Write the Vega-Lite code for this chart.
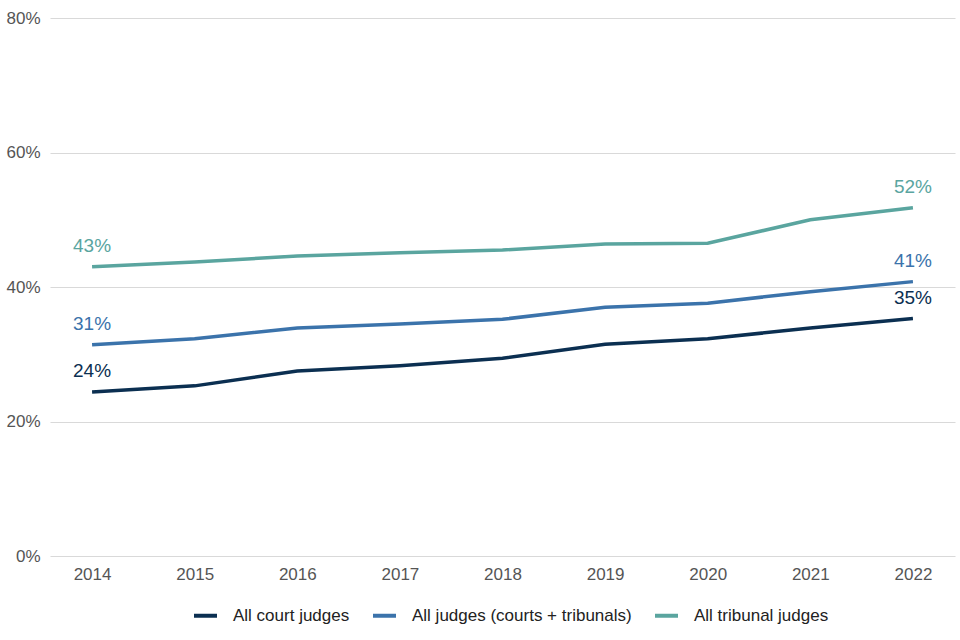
{
  "$schema": "https://vega.github.io/schema/vega-lite/v6.json",
  "width": 905,
  "height": 538,
  "autosize": {"type": "none"},
  "padding": {"left": 50, "top": 18, "right": 5, "bottom": 84},
  "background": "white",
  "config": {
    "view": {"stroke": null},
    "font": "Liberation Sans",
    "axis": {"labelFont": "Liberation Sans", "labelFontSize": 17, "labelColor": "#555555", "title": null, "ticks": false, "domain": false},
    "legend": {"labelFont": "Liberation Sans", "labelFontSize": 17, "labelColor": "#222222", "labelLimit": 0}
  },
  "data": {
    "values": [
      {"year": "2014", "series": "All court judges", "value": 0.244},
      {"year": "2015", "series": "All court judges", "value": 0.253},
      {"year": "2016", "series": "All court judges", "value": 0.275},
      {"year": "2017", "series": "All court judges", "value": 0.283},
      {"year": "2018", "series": "All court judges", "value": 0.294},
      {"year": "2019", "series": "All court judges", "value": 0.315},
      {"year": "2020", "series": "All court judges", "value": 0.323},
      {"year": "2021", "series": "All court judges", "value": 0.339},
      {"year": "2022", "series": "All court judges", "value": 0.353},
      {"year": "2014", "series": "All judges (courts + tribunals)", "value": 0.314},
      {"year": "2015", "series": "All judges (courts + tribunals)", "value": 0.323},
      {"year": "2016", "series": "All judges (courts + tribunals)", "value": 0.339},
      {"year": "2017", "series": "All judges (courts + tribunals)", "value": 0.345},
      {"year": "2018", "series": "All judges (courts + tribunals)", "value": 0.352},
      {"year": "2019", "series": "All judges (courts + tribunals)", "value": 0.370},
      {"year": "2020", "series": "All judges (courts + tribunals)", "value": 0.376},
      {"year": "2021", "series": "All judges (courts + tribunals)", "value": 0.393},
      {"year": "2022", "series": "All judges (courts + tribunals)", "value": 0.408},
      {"year": "2014", "series": "All tribunal judges", "value": 0.430},
      {"year": "2015", "series": "All tribunal judges", "value": 0.437},
      {"year": "2016", "series": "All tribunal judges", "value": 0.446},
      {"year": "2017", "series": "All tribunal judges", "value": 0.451},
      {"year": "2018", "series": "All tribunal judges", "value": 0.455},
      {"year": "2019", "series": "All tribunal judges", "value": 0.464},
      {"year": "2020", "series": "All tribunal judges", "value": 0.465},
      {"year": "2021", "series": "All tribunal judges", "value": 0.500},
      {"year": "2022", "series": "All tribunal judges", "value": 0.518}
    ]
  },
  "encoding": {
    "x": {"field": "year", "type": "ordinal", "scale": {"type": "point", "padding": 0.41},
          "axis": {"labelAngle": 0, "labelPadding": 10, "grid": false}},
    "y": {"field": "value", "type": "quantitative", "scale": {"domain": [0, 0.8]},
          "axis": {"values": [0, 0.2, 0.4, 0.6, 0.8], "format": ".0%", "labelPadding": 10, "gridColor": "#d9d9d9", "gridWidth": 1}}
  },
  "layer": [
    {
      "mark": {"type": "line", "strokeWidth": 3.5},
      "encoding": {
        "color": {"field": "series", "type": "nominal",
          "scale": {"domain": ["All court judges", "All judges (courts + tribunals)", "All tribunal judges"], "range": ["#0b2f51", "#3b73ab", "#5aa59f"]},
          "legend": {"orient": "none", "legendX": 142, "legendY": 584, "direction": "horizontal", "title": null, "symbolType": "stroke", "symbolStrokeWidth": 4, "symbolSize": 529, "columnPadding": 15, "labelOffset": 14}}
      }
    },
    {
      "transform": [{"filter": "datum.year == '2014' || datum.year == '2022'"}],
      "mark": {"type": "text", "fontSize": 19, "dy": -21, "align": "center"},
      "encoding": {
        "text": {"field": "value", "type": "quantitative", "format": ".0%"},
        "color": {"field": "series", "type": "nominal", "legend": null}
      }
    }
  ]
}
